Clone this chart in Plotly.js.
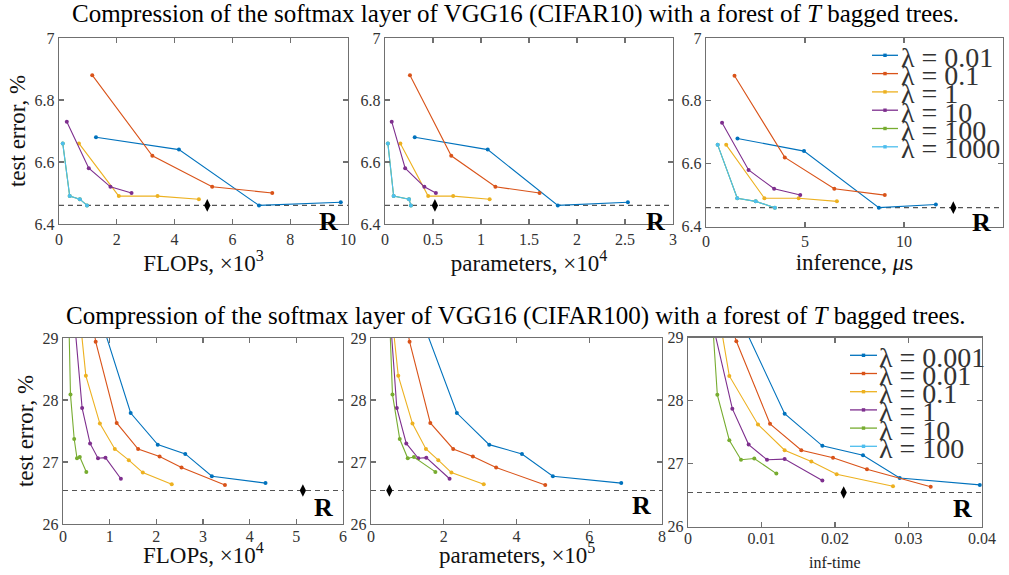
<!DOCTYPE html>
<html>
<head>
<meta charset="utf-8">
<script src="https://cdn.plot.ly/plotly-3.0.1.min.js"></script>
<style>html,body{margin:0;padding:0;background:#fff;}#chart{width:1009px;height:575px;}</style>
</head>
<body>
<div id="chart"></div>
<script>
// ---------------- DATA ----------------
// CIFAR10 (top row)
const c10Lambda = ['0.01', '0.1', '1', '10', '100', '1000'];
const c10Flops = [ // x10^3
  [1.28, 4.15, 6.92, 9.75],
  [1.15, 3.23, 5.30, 7.38],
  [0.69, 2.07, 3.41, 4.84],
  [0.27, 1.03, 1.78, 2.51],
  [0.13, 0.37, 0.72, 0.97],
  [0.13, 0.37, 0.72, 0.97]
];
const c10Params = [ // x10^4
  [0.31, 1.07, 1.80, 2.53],
  [0.26, 0.69, 1.15, 1.61],
  [0.16, 0.45, 0.71, 1.09],
  [0.07, 0.21, 0.41, 0.53],
  [0.03, 0.09, 0.25, 0.27],
  [0.03, 0.09, 0.25, 0.27]
];
const c10Inf = [ // microseconds
  [1.59, 4.95, 8.73, 11.61],
  [1.44, 3.98, 6.48, 9.03],
  [1.02, 2.95, 4.68, 6.61],
  [0.81, 2.15, 3.44, 4.76],
  [0.59, 1.58, 2.51, 3.48],
  [0.59, 1.58, 2.51, 3.48]
];
const c10Err = [
  [6.68, 6.64, 6.46, 6.47],
  [6.88, 6.62, 6.52, 6.50],
  [6.66, 6.49, 6.49, 6.48],
  [6.73, 6.58, 6.52, 6.50],
  [6.66, 6.49, 6.48, 6.46],
  [6.66, 6.49, 6.48, 6.46]
];
const c10RefX = [5.13, 0.52, 12.49]; // flops, params, inference
const c10RefErr = 6.46;

// CIFAR100 (bottom row)
const c100Lambda = ['0.001', '0.01', '0.1', '1', '10', '100'];
const c100Flops = [ // x10^4
  [0.73, 1.45, 2.03, 2.62, 3.19, 4.34],
  [0.59, 0.70, 1.15, 1.61, 2.07, 2.54, 3.47],
  [0.34, 0.49, 0.79, 1.11, 1.41, 1.71, 2.33],
  [0.22, 0.41, 0.58, 0.75, 0.91, 1.24],
  [0.12, 0.16, 0.24, 0.30, 0.36, 0.50],
  []
];
const c100Params = [ // x10^5
  [1.27, 2.36, 3.25, 4.15, 5.00, 6.88],
  [0.89, 1.06, 1.63, 2.26, 2.80, 3.44, 4.79],
  [0.55, 0.75, 1.14, 1.51, 1.85, 2.21, 3.10],
  [0.51, 0.71, 0.97, 1.30, 1.52, 2.16],
  [0.50, 0.59, 0.79, 1.01, 1.18, 1.77],
  []
];
const c100Inf = [
  [0.0063, 0.01315, 0.01828, 0.02381, 0.0288, 0.0397],
  [0.0050, 0.00658, 0.01116, 0.01542, 0.01973, 0.02435, 0.03302],
  [0.0040, 0.00562, 0.00952, 0.01315, 0.01678, 0.02023, 0.02789],
  [0.0028, 0.00603, 0.00825, 0.01075, 0.01315, 0.01828],
  [0.0032, 0.00399, 0.00562, 0.00721, 0.00902, 0.01202],
  []
];
const c100Err = [
  [29.5, 27.79, 27.28, 27.13, 26.77, 26.66],
  [29.5, 28.94, 27.63, 27.21, 27.09, 26.91, 26.63],
  [29.5, 28.39, 27.62, 27.21, 27.03, 26.83, 26.64],
  [29.5, 27.87, 27.30, 27.06, 27.07, 26.73],
  [29.5, 28.09, 27.37, 27.06, 27.08, 26.84],
  []
];
const c100RefX = [5.14, 0.505, 0.02118];
const c100RefErr = 26.54;

// ---------------- STYLE ----------------
const W = 1009, H = 575;
const colors = ['#0072BD', '#D95319', '#EDB120', '#7E2F8E', '#77AC30', '#4DBEEE'];
const SERIF = 'Liberation Serif, Times New Roman, serif';
const px = x => x / W;
const py = y => 1 - y / H;

// panel boxes in pixels [left, right, top, bottom]
const boxes = [
  [59, 348, 38, 224],
  [385, 673, 38, 224],
  [706, 1003, 38, 226.5],
  [63, 343, 338, 524],
  [371, 662, 338, 524],
  [688, 982, 337.5, 526.5]
];

const traces = [];
function addPanel(idx, xs, ys, refX, refY) {
  const xa = idx === 0 ? 'x' : 'x' + (idx + 1);
  const ya = idx === 0 ? 'y' : 'y' + (idx + 1);
  xs.forEach((xv, i) => {
    if (!xv.length) return;
    traces.push({
      type: 'scatter', mode: 'lines+markers', x: xv, y: ys[i],
      xaxis: xa, yaxis: ya,
      line: {color: colors[i], width: 1.1},
      marker: {color: colors[i], size: 4},
      hoverinfo: 'x+y', showlegend: false
    });
  });
  traces.push({
    type: 'scatter', mode: 'markers', x: [refX], y: [refY], xaxis: xa, yaxis: ya,
    marker: {symbol: 'diamond-tall', color: '#000', size: 9}, showlegend: false
  });
}
addPanel(0, c10Flops, c10Err, c10RefX[0], c10RefErr);
addPanel(1, c10Params, c10Err, c10RefX[1], c10RefErr);
addPanel(2, c10Inf, c10Err, c10RefX[2], c10RefErr);
addPanel(3, c100Flops, c100Err, c100RefX[0], c100RefErr);
addPanel(4, c100Params, c100Err, c100RefX[1], c100RefErr);
addPanel(5, c100Inf, c100Err, c100RefX[2], c100RefErr);

const tickFont = {family: SERIF, size: 16, color: '#333'};
const titleFont = {family: SERIF, size: 23, color: '#111'};
function axis(extra) {
  return Object.assign({
    showline: true, linecolor: '#707070', linewidth: 1.3, mirror: 'ticks',
    ticks: 'inside', ticklen: 5, tickcolor: '#707070', tickwidth: 1.2,
    showgrid: false, zeroline: false, tickfont: tickFont, fixedrange: true
  }, extra);
}

const xRanges = [[0, 10], [0, 3], [0, 15], [0, 6], [0, 8], [0, 0.04]];
const xDticks = [2, 0.5, 5, 1, 2, 0.01];
const xTitles = [
  'FLOPs, ×10<sup>3</sup>', 'parameters, ×10<sup>4</sup>', 'inference, <i>μ</i>s',
  'FLOPs, ×10<sup>4</sup>', 'parameters, ×10<sup>5</sup>', 'inf-time'
];

const layout = {
  width: W, height: H, margin: {l: 0, r: 0, t: 0, b: 0},
  paper_bgcolor: '#fff', plot_bgcolor: '#fff', showlegend: false,
  font: {family: SERIF, color: '#222'},
  shapes: [], annotations: []
};

boxes.forEach((b, i) => {
  const k = i === 0 ? '' : String(i + 1);
  const top = i < 3;
  const xa = axis({
    domain: [px(b[0]), px(b[1])], range: xRanges[i], dtick: xDticks[i], tick0: 0,
    anchor: 'y' + k
  });
  if (top) {
    xa.title = {text: xTitles[i], font: titleFont, standoff: 2};
  } else {
    xa.ticklabelstandoff = -3;
    // bottom-row axis titles sit closer to the tick labels
    layout.annotations.push({
      text: xTitles[i], xref: 'x' + k + ' domain', yref: 'paper',
      x: 0.5, y: py(i === 5 ? 562 : 553), xanchor: 'center', yanchor: 'middle', showarrow: false,
      font: i === 5 ? {family: SERIF, size: 16, color: '#222'} : titleFont
    });
  }
  layout['xaxis' + k] = xa;
  const yaObj = axis({
    domain: [py(b[3]), py(b[2])],
    range: top ? [6.4, 7] : [26, 29], dtick: top ? 0.2 : 1, tick0: 0,
    anchor: 'x' + k
  });
  if (i === 0 || i === 3) yaObj.title = {text: 'test error, %', font: titleFont, standoff: 2};
  layout['yaxis' + k] = yaObj;
  // reference dashed line
  layout.shapes.push({
    type: 'line', xref: 'x' + k + ' domain', x0: 0, x1: 1,
    yref: 'y' + k, y0: top ? c10RefErr : c100RefErr, y1: top ? c10RefErr : c100RefErr,
    line: {color: '#555', width: 1.2, dash: '5px,4px'}, layer: 'below'
  });
});

// "R" labels
const rPos = [[0.931, 0.016], [0.9375, 0.011], [0.926, 0.019], [0.932, 0.091], [0.928, 0.102], [0.932, 0.093]];
rPos.forEach((p, i) => {
  const k = i === 0 ? '' : String(i + 1);
  layout.annotations.push({
    text: '<b>R</b>', xref: 'x' + k + ' domain', yref: 'y' + k + ' domain',
    x: p[0], y: p[1], xanchor: 'center', yanchor: 'middle', showarrow: false,
    font: {family: SERIF, size: 26, color: '#000'}
  });
});

// Titles
layout.annotations.push({
  text: 'Compression of the softmax layer of VGG16 (CIFAR10) with a forest of <i>T</i> bagged trees.',
  xref: 'paper', yref: 'paper', x: px(515), y: py(14), xanchor: 'center', yanchor: 'middle',
  showarrow: false, font: {family: SERIF, size: 25, color: '#000'}
});
layout.annotations.push({
  text: 'Compression of the softmax layer of VGG16 (CIFAR100) with a forest of <i>T</i> bagged trees.',
  xref: 'paper', yref: 'paper', x: px(516), y: py(316), xanchor: 'center', yanchor: 'middle',
  showarrow: false, font: {family: SERIF, size: 25, color: '#000'}
});

// Legends (drawn manually to reproduce the tight spacing)
function addLegend(labels, lx0, lx1, tx, y0, dy) {
  labels.forEach((lab, i) => {
    const y = y0 + i * dy;
    layout.shapes.push({type: 'line', xref: 'paper', yref: 'paper',
      x0: px(lx0), x1: px(lx1), y0: py(y), y1: py(y), line: {color: colors[i], width: 1.3}});
    const cx = (lx0 + lx1) / 2;
    layout.shapes.push({type: 'rect', xref: 'paper', yref: 'paper',
      x0: px(cx - 1.7), x1: px(cx + 1.7), y0: py(y + 1.7), y1: py(y - 1.7),
      fillcolor: colors[i], line: {width: 0}});
    layout.annotations.push({
      text: 'λ = ' + lab, xref: 'paper', yref: 'paper', x: px(tx), y: py(y + 2),
      xanchor: 'left', yanchor: 'middle', showarrow: false,
      font: {family: SERIF, size: 28, color: '#333'}
    });
  });
}
addLegend(c10Lambda, 872, 898, 899, 55.3, 18.3);
addLegend(c100Lambda, 850, 877, 877, 355.3, 18.2);

Plotly.newPlot('chart', traces, layout, {displayModeBar: false, staticPlot: true});
</script>
</body>
</html>
